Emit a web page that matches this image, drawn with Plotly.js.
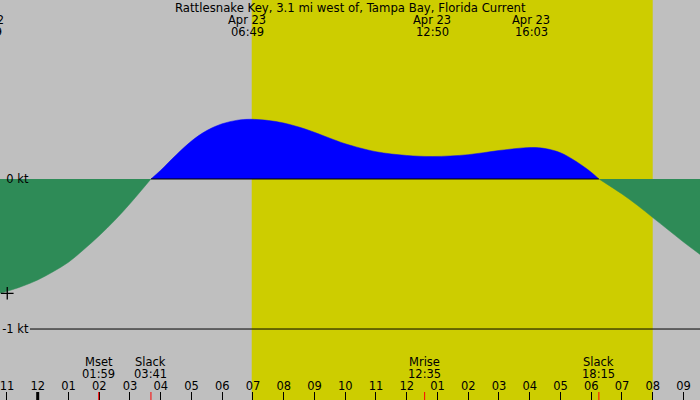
<!DOCTYPE html>
<html>
<head>
<meta charset="utf-8">
<script src="https://cdn.plot.ly/plotly-3.0.1.min.js"></script>
<style>
  html, body { margin: 0; padding: 0; background: #bfbfbf; }
  #chart { width: 700px; height: 400px; }
</style>
</head>
<body>
<div id="chart"></div>
<script>
// hours counted from midnight Apr 23, current in knots
const ebbHoursA = [-1.3, -1.0, -0.5, 0, 0.5, 1.0, 1.5, 2.0, 2.5, 3.0, 3.683];
const ebbKnotsA = [-0.766, -0.749, -0.715, -0.673, -0.618, -0.555, -0.47, -0.378, -0.277, -0.165, 0];

const floodHours = [3.683, 4.0, 4.5, 5.0, 5.5, 6.0, 6.5, 6.9, 7.5, 8.0, 8.7, 9.5, 10.0, 11.0, 12.0, 12.85, 14.0, 15.0, 16.05, 16.5, 17.0, 17.5, 18.0, 18.25];
const floodKnots = [0, 0.058, 0.16, 0.253, 0.323, 0.368, 0.392, 0.398, 0.39, 0.373, 0.333, 0.272, 0.235, 0.182, 0.157, 0.15, 0.162, 0.19, 0.21, 0.203, 0.175, 0.118, 0.045, 0];

const ebbHoursB = [18.25, 18.5, 19.0, 19.5, 20.0, 20.5, 21.0, 21.6];
const ebbKnotsB = [0, -0.033, -0.1, -0.175, -0.257, -0.338, -0.42, -0.512];

const hourTicks = [-1, 0, 1, 2, 3, 4, 5, 6, 7, 8, 9, 10, 11, 12, 13, 14, 15, 16, 17, 18, 19, 20, 21];
const hourLabels = ['11', '12', '01', '02', '03', '04', '05', '06', '07', '08', '09', '10',
                    '11', '12', '01', '02', '03', '04', '05', '06', '07', '08', '09'];

const peakTimes = [-1.7, 6.817, 12.833, 16.05];
const peakDates = ['Apr 22', 'Apr 23', 'Apr 23', 'Apr 23'];
const peakLabels = ['22:19', '06:49', '12:50', '16:03'];

const eventTimes = [1.983, 3.683, 12.583, 18.25];
const eventNames = ['Mset', 'Slack', 'Mrise', 'Slack'];
const eventLabels = ['01:59', '03:41', '12:35', '18:15'];

const markHours = [-0.99];
const markKnots = [-0.762];

const dayStart = 6.96;
const dayEnd = 20.0;

const xRange = [-1.226, 21.538];
const yRange = [-1.473, 1.193];
const font = 'DejaVu Sans, Verdana, sans-serif';

function xPaper(h) {
    return (h - xRange[0]) / (xRange[1] - xRange[0]);
}
function yPaper(px) {
    return 1 - px / 400;
}

function area(x, y, color) {
    return {
        x: x, y: y, type: 'scatter', mode: 'lines',
        line: { width: 0.5, color: color, shape: 'spline', smoothing: 1 },
        fill: 'tozeroy', fillcolor: color, hoverinfo: 'skip'
    };
}

const traces = [
    area(ebbHoursA, ebbKnotsA, '#2e8b57'),
    area(floodHours, floodKnots, '#0000ff'),
    area(ebbHoursB, ebbKnotsB, '#2e8b57'),
    {
        x: markHours, y: markKnots, type: 'scatter', mode: 'markers',
        xaxis: 'x2',
        marker: { symbol: 'cross-thin', size: 9, line: { width: 1.3, color: '#000' } },
        hoverinfo: 'skip'
    }
];

const shapes = [
    { type: 'rect', xref: 'x', yref: 'paper', x0: dayStart, x1: dayEnd, y0: 0, y1: 1,
      fillcolor: '#cdcd00', line: { width: 0 }, layer: 'below' },
    { type: 'line', xref: 'x', yref: 'y', x0: floodHours[0], x1: floodHours[floodHours.length - 1], y0: 0, y1: 0,
      line: { color: '#000', width: 1 } },
    { type: 'line', xref: 'paper', yref: 'y', x0: 30 / 700, x1: 1, y0: -1, y1: -1,
      line: { color: '#000', width: 1 } },
    { type: 'line', xref: 'x', yref: 'paper', x0: 0, x1: 0, y0: 0, y1: 8 / 400,
      line: { color: '#000', width: 3 } }
];
eventTimes.forEach(t => {
    shapes.push({ type: 'line', xref: 'x', yref: 'paper', x0: t, x1: t, y0: 0, y1: 8 / 400,
                  line: { color: '#ff0000', width: 1 } });
});

const annotations = [
    { text: 'Rattlesnake Key, 3.1 mi west of, Tampa Bay, Florida Current',
      xref: 'paper', yref: 'paper', x: 350 / 700, y: yPaper(8), showarrow: false,
      xanchor: 'center', yanchor: 'middle', font: { size: 11.7 } }
];
peakTimes.forEach((t, i) => {
    annotations.push({ text: peakDates[i], xref: 'paper', yref: 'paper', x: xPaper(t), y: yPaper(20),
                       showarrow: false, xanchor: 'center', yanchor: 'middle' });
    annotations.push({ text: peakLabels[i], xref: 'paper', yref: 'paper', x: xPaper(t), y: yPaper(32),
                       showarrow: false, xanchor: 'center', yanchor: 'middle' });
});
eventTimes.forEach((t, i) => {
    annotations.push({ text: eventNames[i], xref: 'paper', yref: 'paper', x: xPaper(t), y: yPaper(361.5),
                       showarrow: false, xanchor: 'center', yanchor: 'middle' });
    annotations.push({ text: eventLabels[i], xref: 'paper', yref: 'paper', x: xPaper(t), y: yPaper(373.5),
                       showarrow: false, xanchor: 'center', yanchor: 'middle' });
});

const layout = {
    width: 700,
    height: 400,
    margin: { t: 0, b: 0, l: 0, r: 0, pad: 0 },
    paper_bgcolor: '#bfbfbf',
    plot_bgcolor: '#bfbfbf',
    font: { family: font, size: 11.5, color: '#000' },
    showlegend: false,
    xaxis: {
        range: xRange,
        tickvals: hourTicks,
        ticks: 'inside',
        ticklen: 8,
        tickwidth: 1,
        tickcolor: '#000',
        showticklabels: false,
        showgrid: false,
        zeroline: false,
        showline: false,
        fixedrange: true
    },
    // second axis only carries the hour labels, sitting just above the tick marks
    xaxis2: {
        range: xRange,
        overlaying: 'x',
        anchor: 'free',
        position: 8 / 400,
        side: 'top',
        tickvals: hourTicks,
        ticktext: hourLabels,
        ticks: '',
        ticklabeloverflow: 'allow',
        tickfont: { color: '#000', size: 11.5, family: font },
        showgrid: false,
        zeroline: false,
        showline: false,
        fixedrange: true
    },
    yaxis: {
        range: yRange,
        anchor: 'free',
        position: 28.5 / 700,
        tickvals: [0, -1],
        ticktext: ['0 kt', '-1 kt'],
        ticks: '',
        tickfont: { color: '#000', size: 11.5, family: font },
        showgrid: false,
        zeroline: false,
        showline: false,
        fixedrange: true
    },
    shapes: shapes,
    annotations: annotations
};

Plotly.newPlot('chart', traces, layout, { displayModeBar: false, staticPlot: true });
</script>
</body>
</html>
